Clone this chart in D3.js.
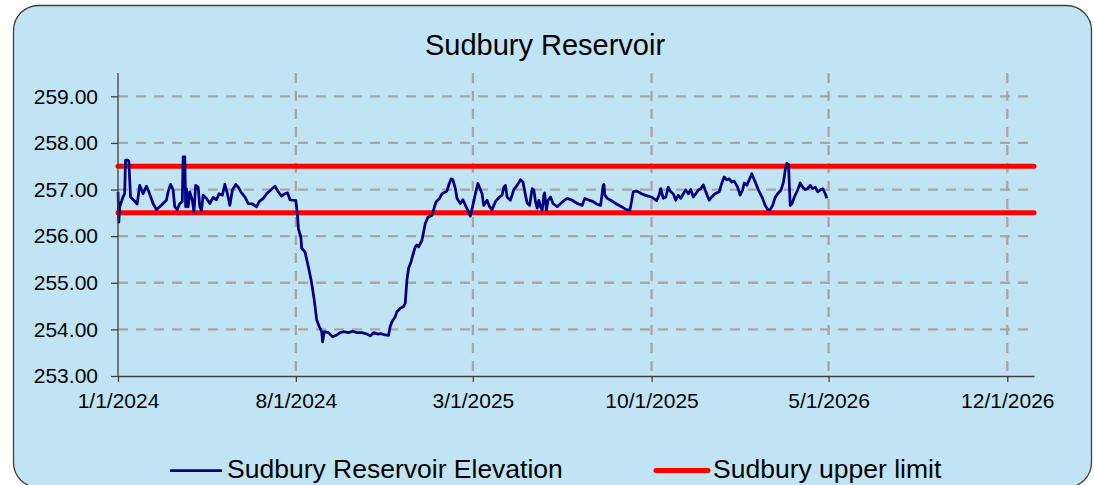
<!DOCTYPE html>
<html>
<head>
<meta charset="utf-8">
<script src="https://cdn.jsdelivr.net/npm/d3@7"></script>
<style>
  html, body { margin: 0; padding: 0; background: #ffffff; }
  svg { display: block; }
  text { font-family: "Liberation Sans", Arial, sans-serif; fill: #000; }
</style>
</head>
<body>
<svg id="chart" width="1094" height="485"></svg>
<script>
// Reservoir elevation observations: day offsets counted from 1 Jan 2024, and elevations (ft)
const startDate = "2024-01-01";
const obsDay = [
  0, 1, 2, 6, 8, 9, 12, 13, 15, 19, 23, 26, 30, 34, 37, 42, 46, 50, 58, 60,
  63, 66, 68, 71, 74, 77, 78, 80, 81, 82, 84, 86, 89, 91, 93, 96, 98, 100, 102, 106,
  110, 114, 118, 121, 125, 128, 131, 134, 137, 141, 144, 148, 152, 156, 161, 166, 169, 174, 178, 183,
  188, 192, 196, 200, 203, 206, 210, 213, 215, 216, 219, 220, 224, 228, 232, 235, 238, 241, 244, 245,
  247, 252, 257, 262, 266, 270, 276, 281, 286, 292, 298, 302, 306, 311, 315, 320, 324, 326, 328, 332,
  334, 338, 342, 344, 346, 348, 351, 353, 356, 358, 360, 362, 364, 366, 368, 371, 376, 379, 381, 385,
  388, 394, 396, 399, 401, 404, 406, 410, 413, 417, 422, 425, 428, 431, 436, 438, 442, 445, 448, 452,
  457, 460, 462, 464, 466, 470, 474, 478, 482, 485, 488, 490, 493, 496, 498, 500, 502, 504, 506, 508,
  510, 511, 513, 515, 518, 521, 526, 530, 534, 538, 544, 550, 556, 559, 563, 569, 573, 578, 581, 582,
  583, 586, 591, 597, 603, 609, 613, 615, 617, 621, 627, 631, 635, 640, 645, 648, 650, 653, 656, 659,
  662, 665, 668, 671, 674, 677, 680, 683, 686, 689, 692, 695, 698, 701, 704, 708, 711, 715, 720, 723,
  726, 729, 732, 735, 738, 742, 745, 748, 750, 753, 756, 759, 762, 767, 772, 775, 778, 781, 784, 787,
  790, 794, 797, 799, 801, 803, 805, 807, 810, 814, 817, 820, 823, 826, 829, 832, 835, 838, 841, 844,
  847, 849
];
const elevation = [
  256.95, 256.30, 256.63, 256.84, 256.91, 257.63, 257.63, 257.60, 256.84, 256.77, 256.69, 257.09, 256.91, 257.07, 256.95, 256.70, 256.57, 256.63, 256.77, 256.95,
  257.11, 256.99, 256.63, 256.57, 256.70, 256.74, 257.70, 257.70, 256.63, 257.02, 256.63, 256.95, 256.77, 256.52, 257.09, 257.05, 256.63, 256.56, 256.88, 256.81,
  256.70, 256.83, 256.78, 256.91, 256.88, 257.11, 256.91, 256.66, 256.99, 257.11, 257.05, 256.93, 256.84, 256.70, 256.69, 256.63, 256.74, 256.81, 256.91, 256.99,
  257.07, 256.95, 256.86, 256.91, 256.93, 256.78, 256.77, 256.76, 256.45, 256.16, 255.98, 255.74, 255.66, 255.34, 254.99, 254.63, 254.20, 254.06, 253.95, 253.73,
  253.95, 253.93, 253.84, 253.88, 253.93, 253.95, 253.93, 253.96, 253.93, 253.93, 253.90, 253.86, 253.93, 253.90, 253.91, 253.88, 253.87, 254.06, 254.16, 254.27,
  254.38, 254.45, 254.49, 254.56, 255.06, 255.31, 255.45, 255.59, 255.77, 255.81, 255.77, 255.84, 255.91, 256.09, 256.27, 256.40, 256.45, 256.63, 256.74, 256.81,
  256.91, 256.97, 257.09, 257.23, 257.21, 257.02, 256.81, 256.70, 256.78, 256.63, 256.43, 256.66, 256.91, 257.13, 256.91, 256.66, 256.77, 256.63, 256.57, 256.74,
  256.84, 256.88, 257.05, 257.09, 256.84, 256.77, 257.00, 257.09, 257.21, 257.16, 256.88, 256.71, 256.66, 257.02, 256.99, 256.74, 256.60, 256.77, 256.63, 256.56,
  256.88, 256.93, 256.56, 256.77, 256.84, 256.70, 256.63, 256.70, 256.76, 256.81, 256.77, 256.70, 256.66, 256.81, 256.78, 256.74, 256.69, 256.66, 257.09, 257.11,
  256.88, 256.81, 256.76, 256.69, 256.63, 256.57, 256.56, 256.74, 256.95, 256.97, 256.91, 256.88, 256.86, 256.83, 256.76, 256.88, 257.02, 256.81, 256.84, 257.05,
  256.95, 256.91, 256.77, 256.88, 256.81, 256.91, 256.99, 256.91, 257.00, 256.84, 256.91, 256.99, 257.02, 257.10, 256.95, 256.77, 256.84, 256.91, 256.95, 257.13,
  257.27, 257.21, 257.23, 257.16, 257.18, 257.05, 256.88, 256.99, 257.14, 257.09, 257.21, 257.34, 257.21, 256.99, 256.81, 256.66, 256.57, 256.57, 256.66, 256.83,
  256.91, 256.99, 257.16, 257.41, 257.56, 257.54, 256.66, 256.69, 256.84, 256.99, 257.14, 257.05, 257.00, 257.02, 257.09, 257.02, 257.05, 256.95, 256.99, 257.02,
  256.91, 256.81
];

// Operating limits drawn as flat reference lines across the whole axis
const limitNames = ["Sudbury upper limit", "Sudbury lower limit"];
const limitValues = [257.5, 256.5];

// Axis ticks
const xTickLabels = ["1/1/2024", "8/1/2024", "3/1/2025", "10/1/2025", "5/1/2026", "12/1/2026"];
const yTickValues = [253, 254, 255, 256, 257, 258, 259];
const xDomainLabels = ["1/1/2024", "1/2/2027"];
const yDomain = [253, 259.5];

const chartTitle = "Sudbury Reservoir";
const seriesName = "Sudbury Reservoir Elevation";

const parseMDY = d3.utcParse("%m/%d/%Y");
const fmtMDY = d => `${d.getUTCMonth() + 1}/${d.getUTCDate()}/${d.getUTCFullYear()}`;
const t0 = d3.utcParse("%Y-%m-%d")(startDate);
const points = obsDay.map((d, i) => ({ date: d3.utcDay.offset(t0, d), value: elevation[i] }));

const svg = d3.select("#chart");
const plot = { left: 118, right: 1034, top: 73, bottom: 376 };

// Chart panel
svg.append("rect")
  .attr("x", 13.5).attr("y", 5.5)
  .attr("width", 1078).attr("height", 482)
  .attr("rx", 25).attr("ry", 25)
  .attr("fill", "#c0e4f4")
  .attr("stroke", "#404040").attr("stroke-width", 1.3);

const x = d3.scaleUtc()
  .domain(xDomainLabels.map(parseMDY))
  .range([plot.left, plot.right]);
const y = d3.scaleLinear()
  .domain(yDomain)
  .range([plot.bottom, plot.top]);

const xTicks = xTickLabels.map(parseMDY);
const gridColor = "#a6a6a6";

// Gridlines
const grid = svg.append("g");
grid.selectAll("line.h")
  .data(yTickValues.filter(v => v > yDomain[0]))
  .join("line").attr("class", "h")
  .attr("x1", plot.left).attr("x2", plot.right)
  .attr("y1", d => y(d)).attr("y2", d => y(d))
  .attr("stroke", gridColor).attr("stroke-width", 2.3)
  .attr("stroke-dasharray", "10,8");
grid.selectAll("line.v")
  .data(xTicks.slice(1))
  .join("line").attr("class", "v")
  .attr("x1", d => x(d)).attr("x2", d => x(d))
  .attr("y1", plot.top).attr("y2", plot.bottom)
  .attr("stroke", gridColor).attr("stroke-width", 2.3)
  .attr("stroke-dasharray", "10,8");

// Limit lines
svg.append("g").selectAll("line")
  .data(limitValues)
  .join("line")
  .attr("x1", x(x.domain()[0])).attr("x2", x(x.domain()[1]))
  .attr("y1", d => y(d)).attr("y2", d => y(d))
  .attr("stroke", "#ff0000").attr("stroke-width", 5)
  .attr("stroke-linecap", "round");

// Elevation series
svg.append("path")
  .datum(points)
  .attr("fill", "none")
  .attr("stroke", "#000080")
  .attr("stroke-width", 2.75)
  .attr("stroke-linejoin", "round")
  .attr("d", d3.line().x(d => x(d.date)).y(d => y(d.value)));

// Axes
const axisColor = "#404040";
const yAxis = svg.append("g")
  .attr("transform", `translate(${plot.left},0)`)
  .call(d3.axisLeft(y).tickValues(yTickValues).tickFormat(d3.format(".2f"))
    .tickSizeInner(7).tickSizeOuter(0).tickPadding(13));
const xAxis = svg.append("g")
  .attr("transform", `translate(0,${plot.bottom})`)
  .call(d3.axisBottom(x).tickValues(xTicks).tickFormat(fmtMDY)
    .tickSizeInner(6).tickSizeOuter(0).tickPadding(11));
[yAxis, xAxis].forEach(g => {
  g.select(".domain").attr("stroke", axisColor).attr("stroke-width", 1.3);
  g.selectAll(".tick line").attr("stroke", axisColor).attr("stroke-width", 1.3);
  g.selectAll(".tick text").attr("font-size", 21).attr("fill", "#000")
    .attr("font-family", '"Liberation Sans", Arial, sans-serif');
});
yAxis.select(".domain").attr("d", `M0,${plot.top}V${plot.bottom}`);

// Title
svg.append("text")
  .attr("x", 545).attr("y", 55)
  .attr("text-anchor", "middle")
  .attr("font-size", 29)
  .text(chartTitle);

// Legend
const legendItems = [
  { name: seriesName, color: "#000080", width: 2.75, x: 170 },
  { name: limitNames[0], color: "#ff0000", width: 5, x: 656 }
];
const lg = svg.append("g");
legendItems.forEach(it => {
  lg.append("line")
    .attr("x1", it.x).attr("x2", it.x + 52)
    .attr("y1", 470.5).attr("y2", 470.5)
    .attr("stroke", it.color).attr("stroke-width", it.width)
    .attr("stroke-linecap", it.width > 3 ? "round" : "butt");
  lg.append("text")
    .attr("x", it.x + 57).attr("y", 478)
    .attr("font-size", 26.5)
    .text(it.name);
});
</script>
</body>
</html>
